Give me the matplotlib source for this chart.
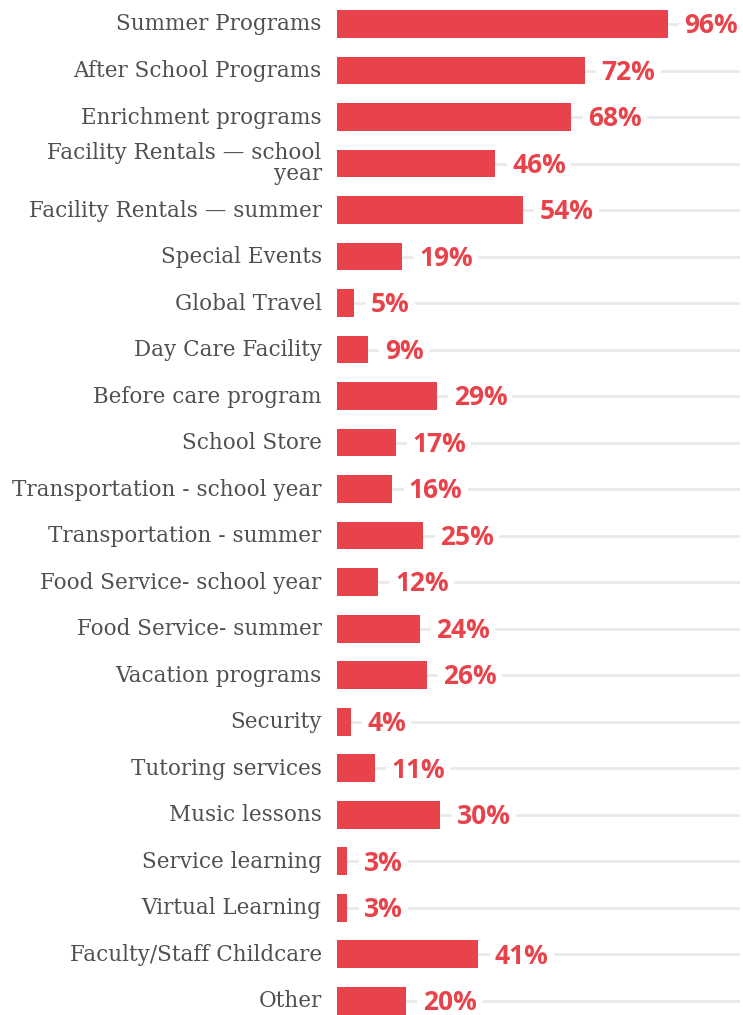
import matplotlib
matplotlib.use("Agg")
import matplotlib.pyplot as plt
from matplotlib.transforms import ScaledTranslation

categories = [
    "Summer Programs",
    "After School Programs",
    "Enrichment programs",
    "Facility Rentals \u2014 school\nyear",
    "Facility Rentals \u2014 summer",
    "Special Events",
    "Global Travel",
    "Day Care Facility",
    "Before care program",
    "School Store",
    "Transportation - school year",
    "Transportation - summer",
    "Food Service- school year",
    "Food Service- summer",
    "Vacation programs",
    "Security",
    "Tutoring services",
    "Music lessons",
    "Service learning",
    "Virtual Learning",
    "Faculty/Staff Childcare",
    "Other",
]
values = [96, 72, 68, 46, 54, 19, 5, 9, 29, 17, 16, 25, 12, 24, 26, 4, 11, 30, 3, 3, 41, 20]

red = "#e8434a"
W, H = 743, 1015
fig = plt.figure(figsize=(W / 100, H / 100), dpi=100)
left_px, right_px = 337, 740
ax = fig.add_axes([left_px / W, 0, (right_px - left_px) / W, 1])

pos = list(range(len(categories)))
# gray guide lines behind the bars
for y in pos:
    ax.plot([0, 117], [y, y], color="#e9e9e9", lw=2, zorder=0, solid_capstyle="butt")
ax.barh(pos, values, height=0.6, color=red, zorder=2)

# value labels, caps centred on the bar
for y, v in zip(pos, values):
    ax.annotate(f"{v}%", (v, y), xytext=(12, -6.8), textcoords="offset points",
                va="baseline", ha="left", color=red, fontsize=19,
                fontweight="bold", family="Open Sans", zorder=3,
                bbox=dict(boxstyle="square,pad=0.2", fc="white", ec="none"))

ax.set_xlim(0, 117)
ax.set_ylim(21.31, -0.516)
ax.set_yticks(pos)
ax.set_yticklabels(categories, family="DejaVu Serif", fontsize=15.5,
                   color="#505050", linespacing=0.95)
ax.tick_params(axis="y", length=0, pad=11)
shift = ScaledTranslation(0, 2 / 100, fig.dpi_scale_trans)
for lab in ax.get_yticklabels():
    lab.set_transform(lab.get_transform() + shift)
ax.set_xticks([])
for s in ax.spines.values():
    s.set_visible(False)

fig.savefig("out.png", dpi=100)
